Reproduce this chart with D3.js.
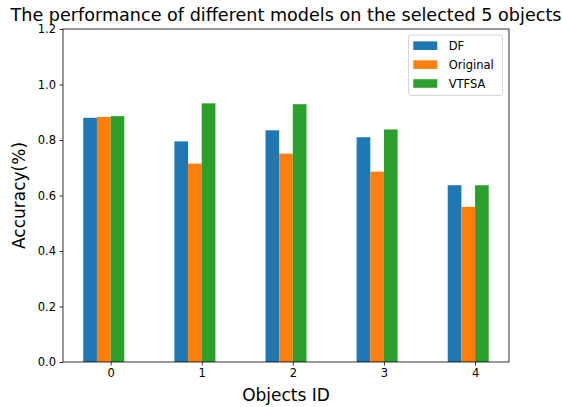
<!DOCTYPE html>
<html><head><meta charset="utf-8">
<script src="https://cdn.jsdelivr.net/npm/d3@7"></script>
<style>body{margin:0;background:#fff}svg{display:block}text{font-family:"DejaVu Sans",sans-serif}</style>
</head><body>
<svg id="c" width="562" height="407"></svg>
<script>
const categories = [0, 1, 2, 3, 4];
const seriesNames = ["DF", "Original", "VTFSA"];
const dfValues = [0.880, 0.795, 0.835, 0.810, 0.637];
const originalValues = [0.883, 0.715, 0.751, 0.686, 0.559];
const vtfsaValues = [0.886, 0.932, 0.929, 0.838, 0.637];
const yTicks = [0.0, 0.2, 0.4, 0.6, 0.8, 1.0, 1.2];
const colors = ["#1f77b4", "#ff7f0e", "#2ca02c"];
const series = [dfValues, originalValues, vtfsaValues];

const svg = d3.select("#c");
const L = 63, R = 509, T = 29, B = 362;
const barW = 0.15;
const x = d3.scaleLinear().domain([-0.5225, 4.3725]).range([L, R]);
const y = d3.scaleLinear().domain([0, 1.2]).range([B, T]);

// bars
series.forEach((vals, si) => {
  const off = (si - 1) * barW - barW / 2; // centres at -0.225, -0.075, 0.075
  svg.append("g").selectAll("rect").data(vals).join("rect")
    .attr("x", (d, i) => x(categories[i] + off - barW / 2))
    .attr("width", (d, i) => x(categories[i] + off + barW / 2) - x(categories[i] + off - barW / 2))
    .attr("y", d => y(d))
    .attr("height", d => y(0) - y(d))
    .attr("fill", colors[si]);
});

// axes
const xAxis = d3.axisBottom(x).tickValues(categories).tickFormat(d3.format("d")).tickSize(3.5).tickPadding(3.5);
const gx = svg.append("g").attr("transform", `translate(0,${B})`).call(xAxis);
const yAxis = d3.axisLeft(y).tickValues(yTicks).tickFormat(d3.format(".1f")).tickSize(3.5).tickPadding(3.5);
const gy = svg.append("g").attr("transform", `translate(${L},0)`).call(yAxis);
[gx, gy].forEach(g => {
  g.select(".domain").remove();
  g.selectAll("text").attr("font-size", "11.5px").attr("fill", "#000").style("font-family", '"DejaVu Sans",sans-serif');
  g.selectAll("line").attr("stroke", "#000").attr("stroke-width", 0.8);
});
// spines
svg.append("rect").attr("x", L).attr("y", T).attr("width", R - L).attr("height", B - T)
  .attr("fill", "none").attr("stroke", "#000").attr("stroke-width", 0.8);

// title and labels
svg.append("text").attr("x", (L + R) / 2).attr("y", 21).attr("text-anchor", "middle")
  .attr("font-size", "17.6px").text("The performance of different models on the selected 5 objects");
svg.append("text").attr("x", (L + R) / 2).attr("y", 400.5).attr("text-anchor", "middle")
  .attr("font-size", "17px").text("Objects ID");
svg.append("text").attr("transform", `translate(24.5,${(T + B) / 2}) rotate(-90)`).attr("text-anchor", "middle")
  .attr("font-size", "17px").text("Accuracy(%)");

// legend
const lg = svg.append("g");
lg.append("rect").attr("x", 408.5).attr("y", 35).attr("width", 94).attr("height", 60.5).attr("rx", 2.5)
  .attr("fill", "#fff").attr("fill-opacity", 0.8).attr("stroke", "#ccc").attr("stroke-width", 0.8);
seriesNames.forEach((n, i) => {
  const cy = 45.7 + i * 18.9;
  lg.append("rect").attr("x", 413.3).attr("y", cy - 4.3).attr("width", 24).attr("height", 8.6).attr("fill", colors[i]);
  lg.append("text").attr("x", 448.7).attr("y", cy + 4.2).attr("font-size", "11.5px").text(n);
});
</script>
</body></html>
